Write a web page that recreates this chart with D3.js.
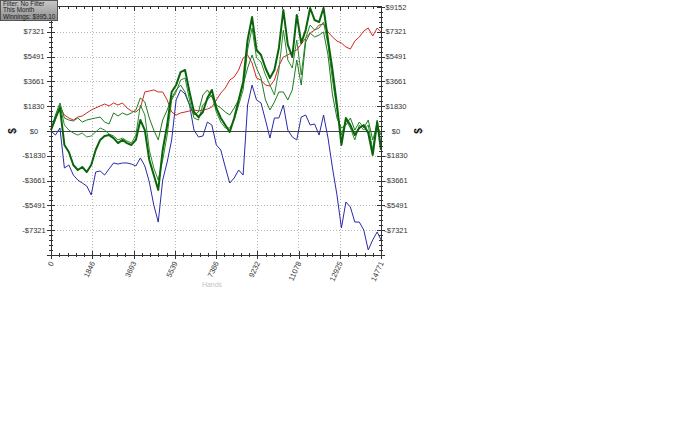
<!DOCTYPE html>
<meta charset="UTF-8">
<style>
body { margin: 0; background: #fff; }
svg { display: block; }
.tick-label { font: 7.5px Arial, "Liberation Sans", sans-serif; fill: #333; }
.grid { stroke: #b8b8b8; stroke-width: 1; stroke-dasharray: 1,2; }
.frame { stroke: #333; stroke-width: 1; fill: none; }
.series { fill: none; stroke-linejoin: round; }
</style>
<body>
<script src="https://d3js.org/d3.v7.min.js"></script>
<script>
// hand numbers the series were sampled at
var hands = [0,200,400,600,800,1000,1200,1400,1600,1800,2000,2200,2400,2600,2800,3000,3200,3400,3600,3800,
  4000,4200,4400,4600,4800,5000,5200,5400,5600,5800,6000,6200,6400,6600,6800,7000,7200,7400,7600,7800,
  8000,8200,8400,8600,8800,9000,9200,9400,9600,9800,10000,10200,10400,10600,10800,11000,11200,11400,11600,11800,
  12000,12200,12400,12600,12800,13000,13200,13400,13600,13800,14000,14200,14400,14600,14771];

var redSeries = [null,null,1700,1180,960,810,1030,1110,1330,1550,1700,1850,1990,1850,2070,1920,2070,1700,1480,1400,
  1700,2880,2950,3030,2880,2880,2290,1400,1180,1330,1400,1480,1550,1480,1550,1620,1770,2290,2800,3170,
  3760,3990,4500,5390,5610,5020,3910,3760,3390,3320,3760,4800,5460,5610,5830,5980,6420,6860,7230,7450,
  7820,7900,7310,6940,6640,6490,6200,6050,6640,6940,7380,7600,7010,7600,7310];

var blueSeries = [0,-300,220,-2730,-2510,-3250,-3620,-3840,-4060,-4720,-3030,-2950,-3250,-2800,-2360,-2440,-2360,-2360,-2440,-2580,
  -1990,-2580,-3760,-5460,-6720,-3620,-2290,-660,2290,3030,2730,1920,70,-440,-370,660,440,-1030,-1400,-2660,
  -3840,-3470,-2880,-3250,1920,3390,2290,2070,810,-520,960,960,1920,70,-440,-660,1030,1180,440,520,
  -300,1180,-520,-2730,-4720,-7160,-5240,-5610,-6720,-6720,-7310,-8780,-8040,-7450,-8040];

var greenThick = [70,960,1700,-1030,-1550,-2510,-2880,-2660,-3030,-2510,-1400,-660,-370,-300,-520,-890,-660,-890,-1030,-660,
  810,70,-2140,-3250,-4350,-1400,440,2880,3390,4350,4500,2880,1400,1030,1400,2440,3030,1700,960,440,
  -70,960,2290,3620,6720,8410,5980,5610,4650,3910,4500,6130,8930,6350,5460,8560,6490,7450,9080,8190,
  8040,9080,6720,4500,1920,-1030,960,440,-300,220,440,-150,-1770,660,-1400];

var greenUpper = [70,1180,2070,960,810,740,960,660,810,890,960,1030,660,520,1330,1110,1330,1180,1330,1550,
  2440,2140,960,70,-660,810,1550,2440,3030,3390,2880,1920,1180,1400,2660,3030,2510,1920,1700,1400,
  1180,1700,2290,3390,4650,5610,4650,3910,2290,1550,2140,2880,2880,2290,3030,5240,3390,6570,7230,6940,
  7080,7310,5610,2660,960,220,440,960,70,660,220,810,-660,440,-300];

var greenMiddle = [70,810,1920,440,70,-150,-300,-150,-440,-370,-70,220,70,-220,-370,-660,-520,-740,-890,-300,
  1920,1180,-1400,-2730,-3620,-2140,-300,2290,2880,3760,3910,2290,960,810,1920,2290,2660,1400,660,220,
  220,810,1920,3030,5980,7600,5390,5090,4130,3390,2660,4500,7450,5240,4650,6720,4130,6860,7820,7450,
  7600,8040,6350,3760,1550,-300,810,220,-660,440,70,440,-1400,810,-1030];

var yTicks = [-7321,-5491,-3661,-1830,0,1830,3661,5491,7321,9152];
var xTicks = [0,1846,3693,5539,7386,9232,11078,12925,14771];
var infoLines = ["Filter: No Filter", "This Month", "Winnings: $995.10"];

var width = 700, height = 438;
var plot = {left: 51, right: 381, top: 7, bottom: 255};

var svg = d3.select("body").append("svg")
    .attr("width", width)
    .attr("height", height);

var x = d3.scaleLinear().domain([0, 14771]).range([plot.left, plot.right]);
var y = d3.scaleLinear().domain([-9152, 9152]).range([plot.bottom, plot.top]);

// dotted grid
svg.append("g").selectAll("line")
    .data(xTicks.slice(1, -1))
  .enter().append("line")
    .attr("class", "grid")
    .attr("x1", function(d) { return Math.round(x(d)) + 0.5; })
    .attr("x2", function(d) { return Math.round(x(d)) + 0.5; })
    .attr("y1", plot.top).attr("y2", plot.bottom);
svg.append("g").selectAll("line")
    .data(yTicks.filter(function(d) { return d != 0 && d != 9152; }))
  .enter().append("line")
    .attr("class", "grid")
    .attr("y1", function(d) { return Math.round(y(d)) + 0.5; })
    .attr("y2", function(d) { return Math.round(y(d)) + 0.5; })
    .attr("x1", plot.left).attr("x2", plot.right);

// zero line
svg.append("line")
    .attr("x1", plot.left).attr("x2", plot.right)
    .attr("y1", Math.round(y(0)) + 0.5).attr("y2", Math.round(y(0)) + 0.5)
    .attr("stroke", "#444").attr("stroke-width", 1);

// series
var line = d3.line()
    .defined(function(d) { return d[1] != null; })
    .x(function(d) { return x(d[0]); })
    .y(function(d) { return y(d[1]); });

function drawSeries(values, color, w) {
  var pts = hands.map(function(h, i) { return [h, values[i]]; });
  svg.append("path")
      .datum(pts)
      .attr("class", "series")
      .attr("stroke", color)
      .attr("stroke-width", w)
      .attr("d", line);
}
drawSeries(blueSeries, "#2a2aa6", 1);
drawSeries(redSeries, "#d42626", 1);
drawSeries(greenMiddle, "#2c8a2c", 1);
drawSeries(greenUpper, "#1f7a1f", 1);
drawSeries(greenThick, "#0a650a", 2);

// frame
svg.append("rect")
    .attr("class", "frame")
    .attr("x", plot.left + 0.5).attr("y", plot.top - 0.5)
    .attr("width", plot.right - plot.left).attr("height", plot.bottom - plot.top + 1);

// minor + major tick marks
var xMinor = d3.range(0, 14771 + 1, 14771 / 40);
var yMinor = d3.range(-9152, 9152 + 1, 9152 / 25);

var ticks = svg.append("g").attr("stroke", "#333").attr("stroke-width", 1);
xMinor.forEach(function(d, i) {
  var px = Math.round(x(d)) + 0.5, len = i % 5 == 0 ? 4 : 2;
  ticks.append("line").attr("x1", px).attr("x2", px)
      .attr("y1", plot.bottom - len).attr("y2", plot.bottom + len);
  ticks.append("line").attr("x1", px).attr("x2", px)
      .attr("y1", plot.top).attr("y2", plot.top + len);
});
yMinor.forEach(function(d, i) {
  var py = Math.round(y(d)) + 0.5, len = i % 5 == 0 ? 4 : 2;
  ticks.append("line").attr("y1", py).attr("y2", py)
      .attr("x1", plot.left - len).attr("x2", plot.left + len);
  ticks.append("line").attr("y1", py).attr("y2", py)
      .attr("x1", plot.right - len).attr("x2", plot.right + len);
});

// y labels both sides (top left one sits under the info box)
function money(d) { return (d < 0 ? "-$" : "$") + Math.abs(d); }
svg.append("g").selectAll("text")
    .data(yTicks.filter(function(d) { return d != 9152; }))
  .enter().append("text")
    .attr("class", "tick-label")
    .attr("x", 34).attr("y", function(d) { return y(d) + 2.5; })
    .attr("text-anchor", "middle")
    .text(money);
svg.append("g").selectAll("text")
    .data(yTicks)
  .enter().append("text")
    .attr("class", "tick-label")
    .attr("x", 396).attr("y", function(d) { return y(d) + 2.5; })
    .attr("text-anchor", "middle")
    .text(money);

// x labels, rotated
svg.append("g").selectAll("text")
    .data(xTicks)
  .enter().append("text")
    .attr("class", "tick-label")
    .attr("text-anchor", "end")
    .attr("transform", function(d) { return "translate(" + (x(d) + 3) + "," + (plot.bottom + 8) + ") rotate(-65)"; })
    .text(function(d) { return d; });

svg.append("text")
    .attr("x", 212).attr("y", 287)
    .attr("text-anchor", "middle")
    .style("font", "7px Arial, sans-serif")
    .attr("fill", "#c4c4c4")
    .text("Hands");

// "$" axis titles
[12, 418].forEach(function(px) {
  svg.append("text")
      .attr("transform", "translate(" + px + "," + y(0) + ") rotate(-90)")
      .attr("text-anchor", "middle")
      .attr("dy", "0.35em")
      .style("font", "bold 10px Arial, sans-serif")
      .attr("fill", "#111")
      .text("$");
});

// info box
var grad = svg.append("defs").append("linearGradient")
    .attr("id", "boxFill").attr("x1", 0).attr("y1", 0).attr("x2", 0).attr("y2", 1);
grad.append("stop").attr("offset", "0%").attr("stop-color", "#c8c8c8");
grad.append("stop").attr("offset", "100%").attr("stop-color", "#8e8e8e");

svg.append("rect")
    .attr("x", 0.5).attr("y", 0.5).attr("width", 57).attr("height", 20)
    .attr("fill", "url(#boxFill)").attr("stroke", "#555");
svg.append("g").selectAll("text")
    .data(infoLines)
  .enter().append("text")
    .attr("x", 3).attr("y", function(d, i) { return 6 + i * 6.3; })
    .style("font", "6.3px Arial, sans-serif")
    .attr("fill", "#1a1a1a")
    .text(function(d) { return d; });
</script>
</body>
